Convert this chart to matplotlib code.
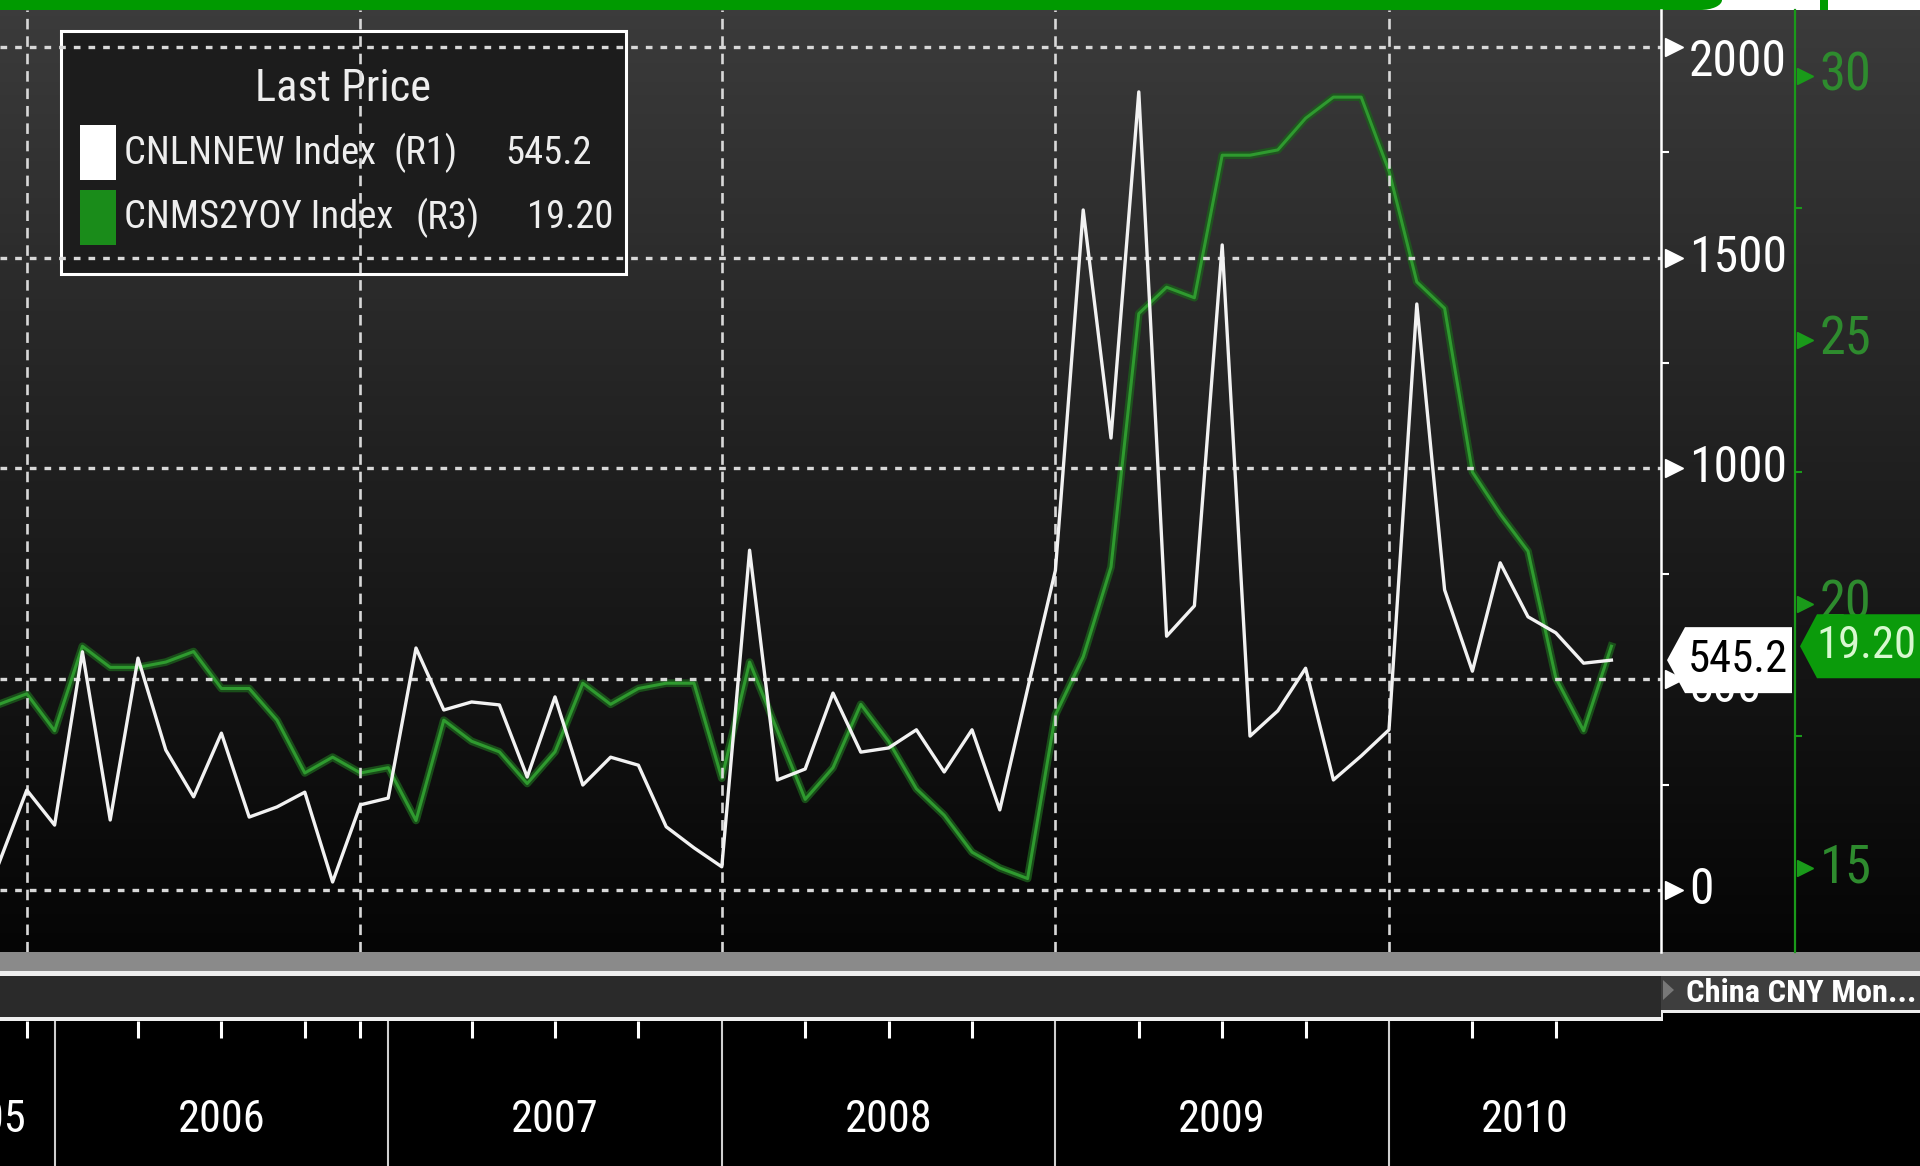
import os
import numpy as np
import pandas as pd
import matplotlib
matplotlib.use("Agg")
import matplotlib.pyplot as plt
import matplotlib.transforms as mtransforms
import matplotlib.font_manager as fm
from matplotlib.patches import Rectangle, Polygon, Ellipse
from matplotlib.colors import LinearSegmentedColormap

# Monatsdaten Okt 2005 - Aug 2010 (Monatsende)
months = pd.date_range('2005-10-31', periods=59, freq='ME')

# CNLNNEW Index (neue Kredite, Mrd CNY) - linke/weisse Achse
new_loans = [64, 237, 154, 565, 166, 550, 332, 221, 372, 173, 197, 232, 19, 202, 218,
             574, 427, 446, 439, 268, 458, 249, 315, 296, 150, 100, 55,
             806, 261, 287, 467, 327, 337, 380, 280, 380, 190, 477, 758,
             1613, 1072, 1893, 602, 674, 1530, 365, 425, 526, 261, 318, 380,
             1390, 712, 519, 776, 648, 610, 538, 545.2]

# CNMS2YOY Index (M2 yoy, %) - gruene Achse
m2_yoy = [18.1, 18.3, 17.6, 19.2, 18.8, 18.8, 18.9, 19.1, 18.4, 18.4, 17.8, 16.8, 17.1, 16.8, 16.9,
          15.9, 17.8, 17.4, 17.2, 16.6, 17.2, 18.5, 18.1, 18.4, 18.5, 18.5, 16.7,
          18.9, 17.6, 16.3, 16.9, 18.1, 17.4, 16.5, 16.0, 15.3, 15.0, 14.8, 17.9,
          19.0, 20.7, 25.5, 26.0, 25.8, 28.5, 28.5, 28.6, 29.2, 29.6, 29.6, 28.2,
          26.1, 25.6, 22.5, 21.7, 21.0, 18.6, 17.6, 19.20]

loan_ticks = [0, 500, 1000, 1500, 2000]
loan_minor = [250, 750, 1250, 1750]
m2_ticks = [15, 20, 25, 30]
m2_minor = [17.5, 22.5, 27.5]
grid_months = ['2005-11', '2006-11', '2007-12', '2008-12', '2009-12']
year_labels = ['2005', '2006', '2007', '2008', '2009', '2010']
legend_rows = [('CNLNNEW Index', '(R1)', '545.2'), ('CNMS2YOY Index', '(R3)', '19.20')]


# schmale Schrift suchen (Bloomberg-Look)
def pick_font(prefs):
    files = {os.path.basename(f.fname).lower(): f.fname for f in fm.fontManager.ttflist}
    for p in prefs:
        for b in sorted(files):
            if b.startswith(p):
                return files[b]
    return None


REG = pick_font(['notosans-extracondensed.', 'liberationsansnarrow-regular', 'robotocondensed-regular',
                 'roboto_condensed-regular', 'notosans-condensed.', 'dejavusanscondensed.',
                 'opensans-condensedregular', 'opensans_condensed-regular'])
BOLD = pick_font(['notosans-extracondensedbold', 'liberationsansnarrow-bold.', 'robotocondensed-bold.',
                  'notosans-condensedbold', 'dejavusanscondensed-bold.']) or REG


def fp(size, bold=False):
    path = BOLD if bold else REG
    if path:
        return fm.FontProperties(fname=path, size=size)
    return fm.FontProperties(family='DejaVu Sans', size=size, weight='bold' if bold else 'normal')


x = np.arange(len(months))
ym = months.strftime('%Y-%m')
grid_idx = [int(np.where(ym == g)[0][0]) for g in grid_months]
sep_idx = [i for i, m in enumerate(months) if m.month == 12]
quarter_idx = [i for i, m in enumerate(months) if m.month in (3, 6, 9)]

W, H = 1920, 1166
AX_W = 1661              # Breite der Hauptachse in Pixel
xlim = (1 / 27.8, (AX_W + 1) / 27.8)

fig = plt.figure(figsize=(19.2, 11.66), dpi=100)
fig.patch.set_facecolor('black')
renderer = fig.canvas.get_renderer()


def fit_group(texts, max_w):
    # gleiche Schriftgroesse fuer eine Gruppe, keiner breiter als max_w (einzeln oder Liste)
    widths = max_w if isinstance(max_w, (list, tuple)) else [max_w] * len(texts)
    scale = 1.0
    for t, mw in zip(texts, widths):
        w = t.get_window_extent(renderer).width
        if w > mw:
            scale = min(scale, mw / w)
    for t in texts:
        t.set_fontsize(t.get_fontsize() * scale)


# Hintergrund / Rahmen in Pixelkoordinaten
deco = fig.add_axes([0, 0, 1, 1])
deco.set_xlim(0, W)
deco.set_ylim(H, 0)
deco.axis('off')
deco.set_zorder(0)

grad = LinearSegmentedColormap.from_list('bg', ['#3b3b3b', '#1f1f1f', '#050505'])
deco.imshow(np.linspace(0, 1, 300).reshape(-1, 1), cmap=grad, aspect='auto',
            extent=[0, W, 952, 10], zorder=0)
deco.add_patch(Rectangle((0, 0), W, 10, fc='white', lw=0, zorder=1))
deco.add_patch(Rectangle((0, 0), 1700, 10, fc='#009a00', lw=0, zorder=2))
deco.add_patch(Ellipse((1700, 0), 44, 20, fc='#009a00', lw=0, zorder=2))
deco.add_patch(Rectangle((1820, 0), 8, 10, fc='#009a00', lw=0, zorder=2))

deco.add_patch(Rectangle((0, 1010), W, H - 1010, fc='black', lw=0, zorder=1))
deco.add_patch(Rectangle((0, 976), AX_W, 42, fc='#2a2a2a', lw=0, zorder=2))
deco.add_patch(Rectangle((AX_W, 976), W - AX_W, 35, fc='#3e3e3e', lw=0, zorder=2))
china = deco.text(1686, 1002, 'China CNY Mon...', color='white', fontproperties=fp(30, bold=True),
                  ha='left', va='baseline', zorder=3)
fit_group([china], 230)
deco.add_patch(Polygon([(1663, 980), (1674, 990), (1663, 1000)], fc='#777777', lw=0, zorder=3))
deco.add_patch(Rectangle((0, 952), W, 19, fc='#8a8a8a', lw=0, zorder=4))
deco.add_patch(Rectangle((0, 971), W, 5, fc='#eeeeee', lw=0, zorder=4))
deco.add_patch(Rectangle((0, 1017), AX_W + 2, 4, fc='#eeeeee', lw=0, zorder=4))
deco.add_patch(Rectangle((AX_W, 1010), W - AX_W, 3, fc='#eeeeee', lw=0, zorder=4))
deco.add_patch(Rectangle((AX_W, 1010), 2, 10, fc='#eeeeee', lw=0, zorder=4))

# Legende
deco.add_patch(Rectangle((61, 31), 565, 243, fc='#1c1c1c', ec='white', lw=2.2, zorder=5))
title = deco.text(343, 89, 'Last Price', color='#eeeeee', fontproperties=fp(44),
                  ha='center', va='center', zorder=6)
fit_group([title], 176)
sw_colors = ['white', '#1a8c1a']
row_y = [153, 218]
tag_x = [394, 415]
val_x = [505, 527]
names, tags, vals = [], [], []
for k, (name, tag, val) in enumerate(legend_rows):
    deco.add_patch(Rectangle((80, row_y[k] - 28), 36, 55, fc=sw_colors[k], lw=0, zorder=6))
    names.append(deco.text(124, row_y[k], name, color='#eeeeee', fontproperties=fp(44),
                           ha='left', va='center', zorder=6))
    tags.append(deco.text(tag_x[k], row_y[k], tag, color='#eeeeee', fontproperties=fp(44),
                          ha='left', va='center', zorder=6))
    vals.append(deco.text(val_x[k], row_y[k], val, color='#eeeeee', fontproperties=fp(44),
                          ha='left', va='center', zorder=6))
fit_group(names + tags + vals, [252, 280, 78, 76, 90, 92])

# Hauptachse (Kredite) und Zwillingsachse (M2)
ax = fig.add_axes([0, (H - 952) / H, AX_W / W, 942 / H])
ax2 = ax.twinx()
ax.set_zorder(2)
ax2.set_zorder(1)
ax.patch.set_visible(False)
ax2.patch.set_visible(False)

ax.set_xlim(*xlim)
ax.set_ylim((890 - 952) / 0.4216, 880 / 0.4216)
ax2.set_ylim(15 + (868 - 952) / 52.8, 15 + 858 / 52.8)

for sp in ['top', 'left', 'bottom']:
    ax.spines[sp].set_visible(False)
    ax2.spines[sp].set_visible(False)
ax.spines['right'].set_color('white')
ax.spines['right'].set_linewidth(1.8)
ax2.spines['right'].set_position(('axes', 1795 / AX_W))
ax2.spines['right'].set_color('#1a9a1a')
ax2.spines['right'].set_linewidth(1.6)

ax.set_xticks([])
ax.set_yticks(loan_ticks)
ax.set_yticks(loan_minor, minor=True)
ax.tick_params(axis='y', which='major', length=0, labelleft=False, labelright=False, left=False)
ax.tick_params(axis='y', which='minor', left=False, right=True, direction='out',
               length=6, width=1.5, color='white')
ax2.set_yticks(m2_ticks)
ax2.set_yticks(m2_minor, minor=True)
ax2.tick_params(axis='y', which='major', length=0, labelright=False)
ax2.tick_params(axis='y', which='minor', right=True, direction='out',
                length=5, width=1.5, color='#1a9a1a')

for v in loan_ticks:
    ax.axhline(v, color='#d8d8d8', lw=2.4, ls=(0, (2, 2.4)), zorder=1)
for g in grid_idx:
    ax.axvline(x[g], color='#d8d8d8', lw=1.9, ls=(0, (4, 2.6)), zorder=1)

ax2.plot(x, m2_yoy, color='#1c5e1c', lw=5.5, alpha=0.8, solid_joinstyle='round')
ax2.plot(x, m2_yoy, color='#2f9a2f', lw=2.2, solid_joinstyle='round')
ax.plot(x, new_loans, color='#f2f2f2', lw=2.4, zorder=3)

# rechte Achsenbeschriftung mit Pfeilen
tr1 = ax.get_yaxis_transform()
rlabels = []
label_shift = {2000: -15, 500: -9}
for v in loan_ticks:
    ax.plot([1674 / AX_W], [v], marker='>', ms=13, color='white', transform=tr1, clip_on=False)
    rlabels.append(ax.text(1689 / AX_W, v, str(v), color='white', fontproperties=fp(50),
                           ha='left', va='center',
                           transform=mtransforms.offset_copy(tr1, fig=fig, y=label_shift.get(v, 0),
                                                             units='dots')))
fit_group(rlabels, 98)
tr2 = ax2.get_yaxis_transform()
glabels = []
for v in m2_ticks:
    ax2.plot([1805 / AX_W], [v], marker='>', ms=12, color='#1a9a1a', transform=tr2, clip_on=False)
    glabels.append(ax2.text(1820 / AX_W, v, str(v), color='#2e8b2e', fontproperties=fp(50),
                            ha='left', va='center', transform=tr2))
fit_group(glabels, 52)

# Wert-Marken rechts (letzter Wert), verdecken die Beschriftungen 500 und 20 teilweise
over = fig.add_axes([0, 0, 1, 1])
over.set_xlim(0, W)
over.set_ylim(H, 0)
over.axis('off')
over.patch.set_visible(False)
over.set_zorder(5)
to_px = over.transData.inverted()
y_w = to_px.transform(ax.transData.transform((0, new_loans[-1])))[1]
y_g = to_px.transform(ax2.transData.transform((0, m2_yoy[-1])))[1]
over.add_patch(Polygon([(1667, y_w), (1685, y_w - 33), (1792, y_w - 33), (1792, y_w + 33),
                        (1685, y_w + 33)], fc='white', lw=0))
t_w = over.text(1738, y_w, f'{new_loans[-1]:.1f}', color='black', fontproperties=fp(50),
                ha='center', va='center')
over.add_patch(Polygon([(1800, y_g), (1817, y_g - 32), (W, y_g - 32), (W, y_g + 32),
                        (1817, y_g + 32)], fc='#0b9b0b', lw=0))
t_g = over.text(1866, y_g, f'{m2_yoy[-1]:.2f}', color='#d8f8d0', fontproperties=fp(50),
                ha='center', va='center')
fit_group([t_w, t_g], 100)

# untere Zeitachse
xax = fig.add_axes([0, 0, AX_W / W, (H - 1021) / H])
xax.set_xlim(*xlim)
xax.set_ylim(H - 1021, 0)
xax.axis('off')
xax.patch.set_visible(False)
xax.set_zorder(3)
short_idx = sorted(set(quarter_idx + grid_idx) - set(sep_idx))
xax.vlines(x[short_idx], 0, 17, color='white', lw=2.2)
xax.vlines(x[sep_idx], 0, H - 1021, color='#cfcfcf', lw=1.5)
centers = [(sep_idx[k] + sep_idx[k + 1]) / 2 for k in range(len(sep_idx) - 1)]
centers.append((sep_idx[-1] + xlim[1]) / 2)
ylabels = [xax.text(x[grid_idx[0]], 99, year_labels[0], color='white', fontproperties=fp(44),
                    ha='right', va='center', clip_on=True)]
for lab, c in zip(year_labels[1:], centers):
    ylabels.append(xax.text(c, 99, lab, color='white', fontproperties=fp(44),
                            ha='center', va='center'))
fit_group(ylabels, 88)

fig.savefig('out.png', dpi=100, facecolor=fig.get_facecolor())
